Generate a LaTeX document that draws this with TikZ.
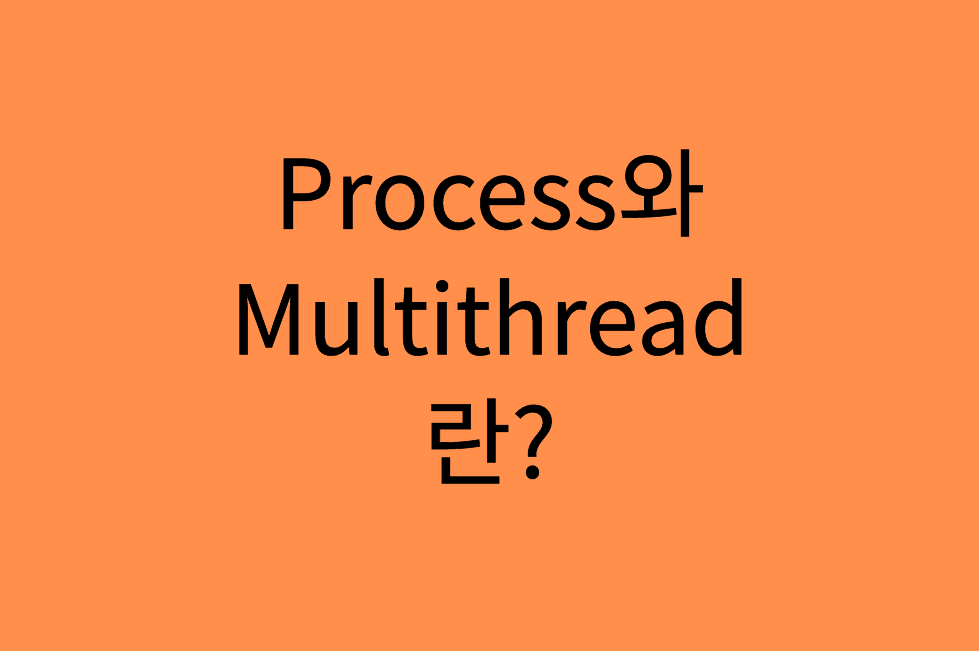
\documentclass[tikz,border=0pt]{standalone}
\usepackage{fontspec}
\usepackage{xcolor}
\usetikzlibrary{positioning}
\newfontfamily\cjk[FakeBold=0.6]{Noto Sans CJK KR}
\definecolor{bgorange}{HTML}{FF8F4B}

\begin{document}
\begin{tikzpicture}[node distance=1.24cm, semithick]
\tikzstyle{title} = [text=black, inner sep=0pt, font=\cjk\fontsize{27.2}{33}\selectfont]

\fill[bgorange] (0,0) rectangle (9.79,6.51);
\useasboundingbox (0,0) rectangle (9.79,6.51);

\node[title] (A) at (4.9,4.58) {Process와};
\node[title] (B)[below of=A] {Multithread};
\node[title] (C)[below of=B] {란?};

\end{tikzpicture}
\end{document}
